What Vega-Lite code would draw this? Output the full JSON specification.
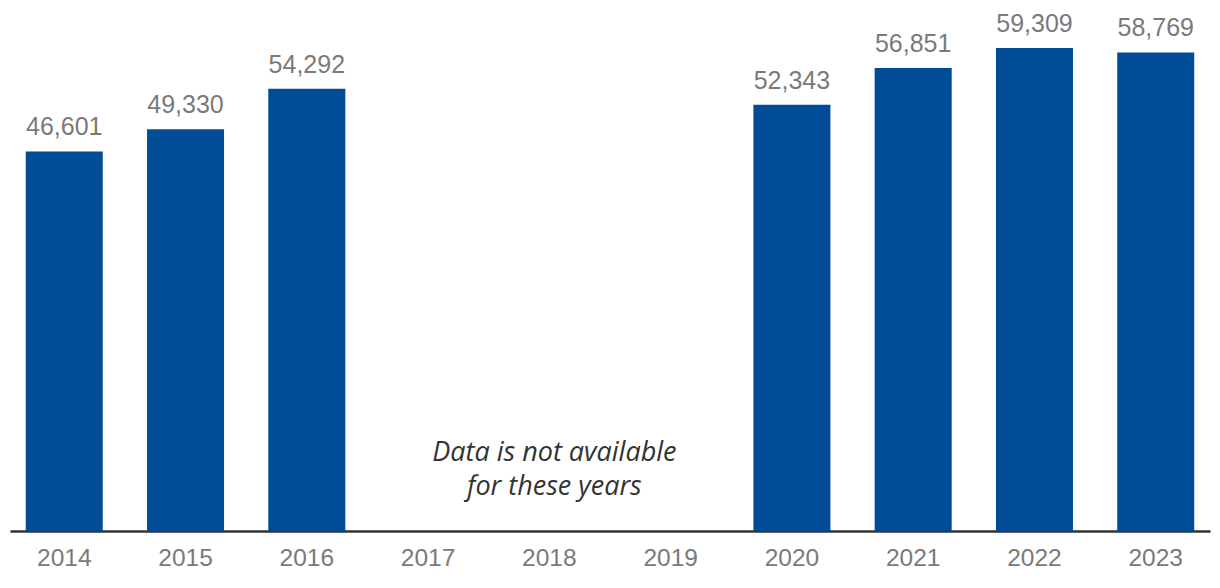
{
  "$schema": "https://vega.github.io/schema/vega-lite/v6.json",
  "width": 1200,
  "height": 531,
  "autosize": {"type": "none"},
  "padding": {"left": 10, "top": 0, "right": 10, "bottom": 57},
  "background": "white",
  "config": {"view": {"stroke": null}},
  "datasets": {
    "bars": [
      {"year": "2014", "value": 46601},
      {"year": "2015", "value": 49330},
      {"year": "2016", "value": 54292},
      {"year": "2017", "value": null},
      {"year": "2018", "value": null},
      {"year": "2019", "value": null},
      {"year": "2020", "value": 52343},
      {"year": "2021", "value": 56851},
      {"year": "2022", "value": 59309},
      {"year": "2023", "value": 58769}
    ],
    "note": [
      {"year": "2018", "pos": 9600, "text": ["Data is not available", "for these years"]}
    ]
  },
  "encoding": {
    "x": {
      "field": "year", "type": "ordinal",
      "scale": {"domain": ["2014","2015","2016","2017","2018","2019","2020","2021","2022","2023"], "paddingInner": 0.365, "paddingOuter": 0.13},
      "axis": {
        "title": null, "labelAngle": 0, "ticks": false,
        "labelFontSize": 24.5, "labelColor": "#7a7a7a", "labelFont": "Liberation Sans",
        "labelPadding": 15, "domainColor": "#333333", "domainWidth": 2.5
      }
    }
  },
  "layer": [
    {
      "data": {"name": "bars"},
      "mark": {"type": "bar", "color": "#004C97"},
      "encoding": {
        "y": {"field": "value", "type": "quantitative", "scale": {"domain": [0, 65200], "nice": false, "zero": true}, "axis": null}
      }
    },
    {
      "data": {"name": "bars"},
      "transform": [{"filter": "datum.value != null"}],
      "mark": {"type": "text", "baseline": "bottom", "dy": -11, "fontSize": 25, "color": "#7a7a7a", "font": "Liberation Sans"},
      "encoding": {
        "y": {"field": "value", "type": "quantitative"},
        "text": {"field": "value", "type": "quantitative", "format": ","}
      }
    },
    {
      "data": {"name": "note"},
      "mark": {"type": "text", "fontSize": 27, "fontStyle": "italic", "font": "Open Sans", "color": "#333333", "lineHeight": 34, "baseline": "middle", "dx": 5},
      "encoding": {
        "y": {"field": "pos", "type": "quantitative"},
        "text": {"field": "text"}
      }
    }
  ]
}
